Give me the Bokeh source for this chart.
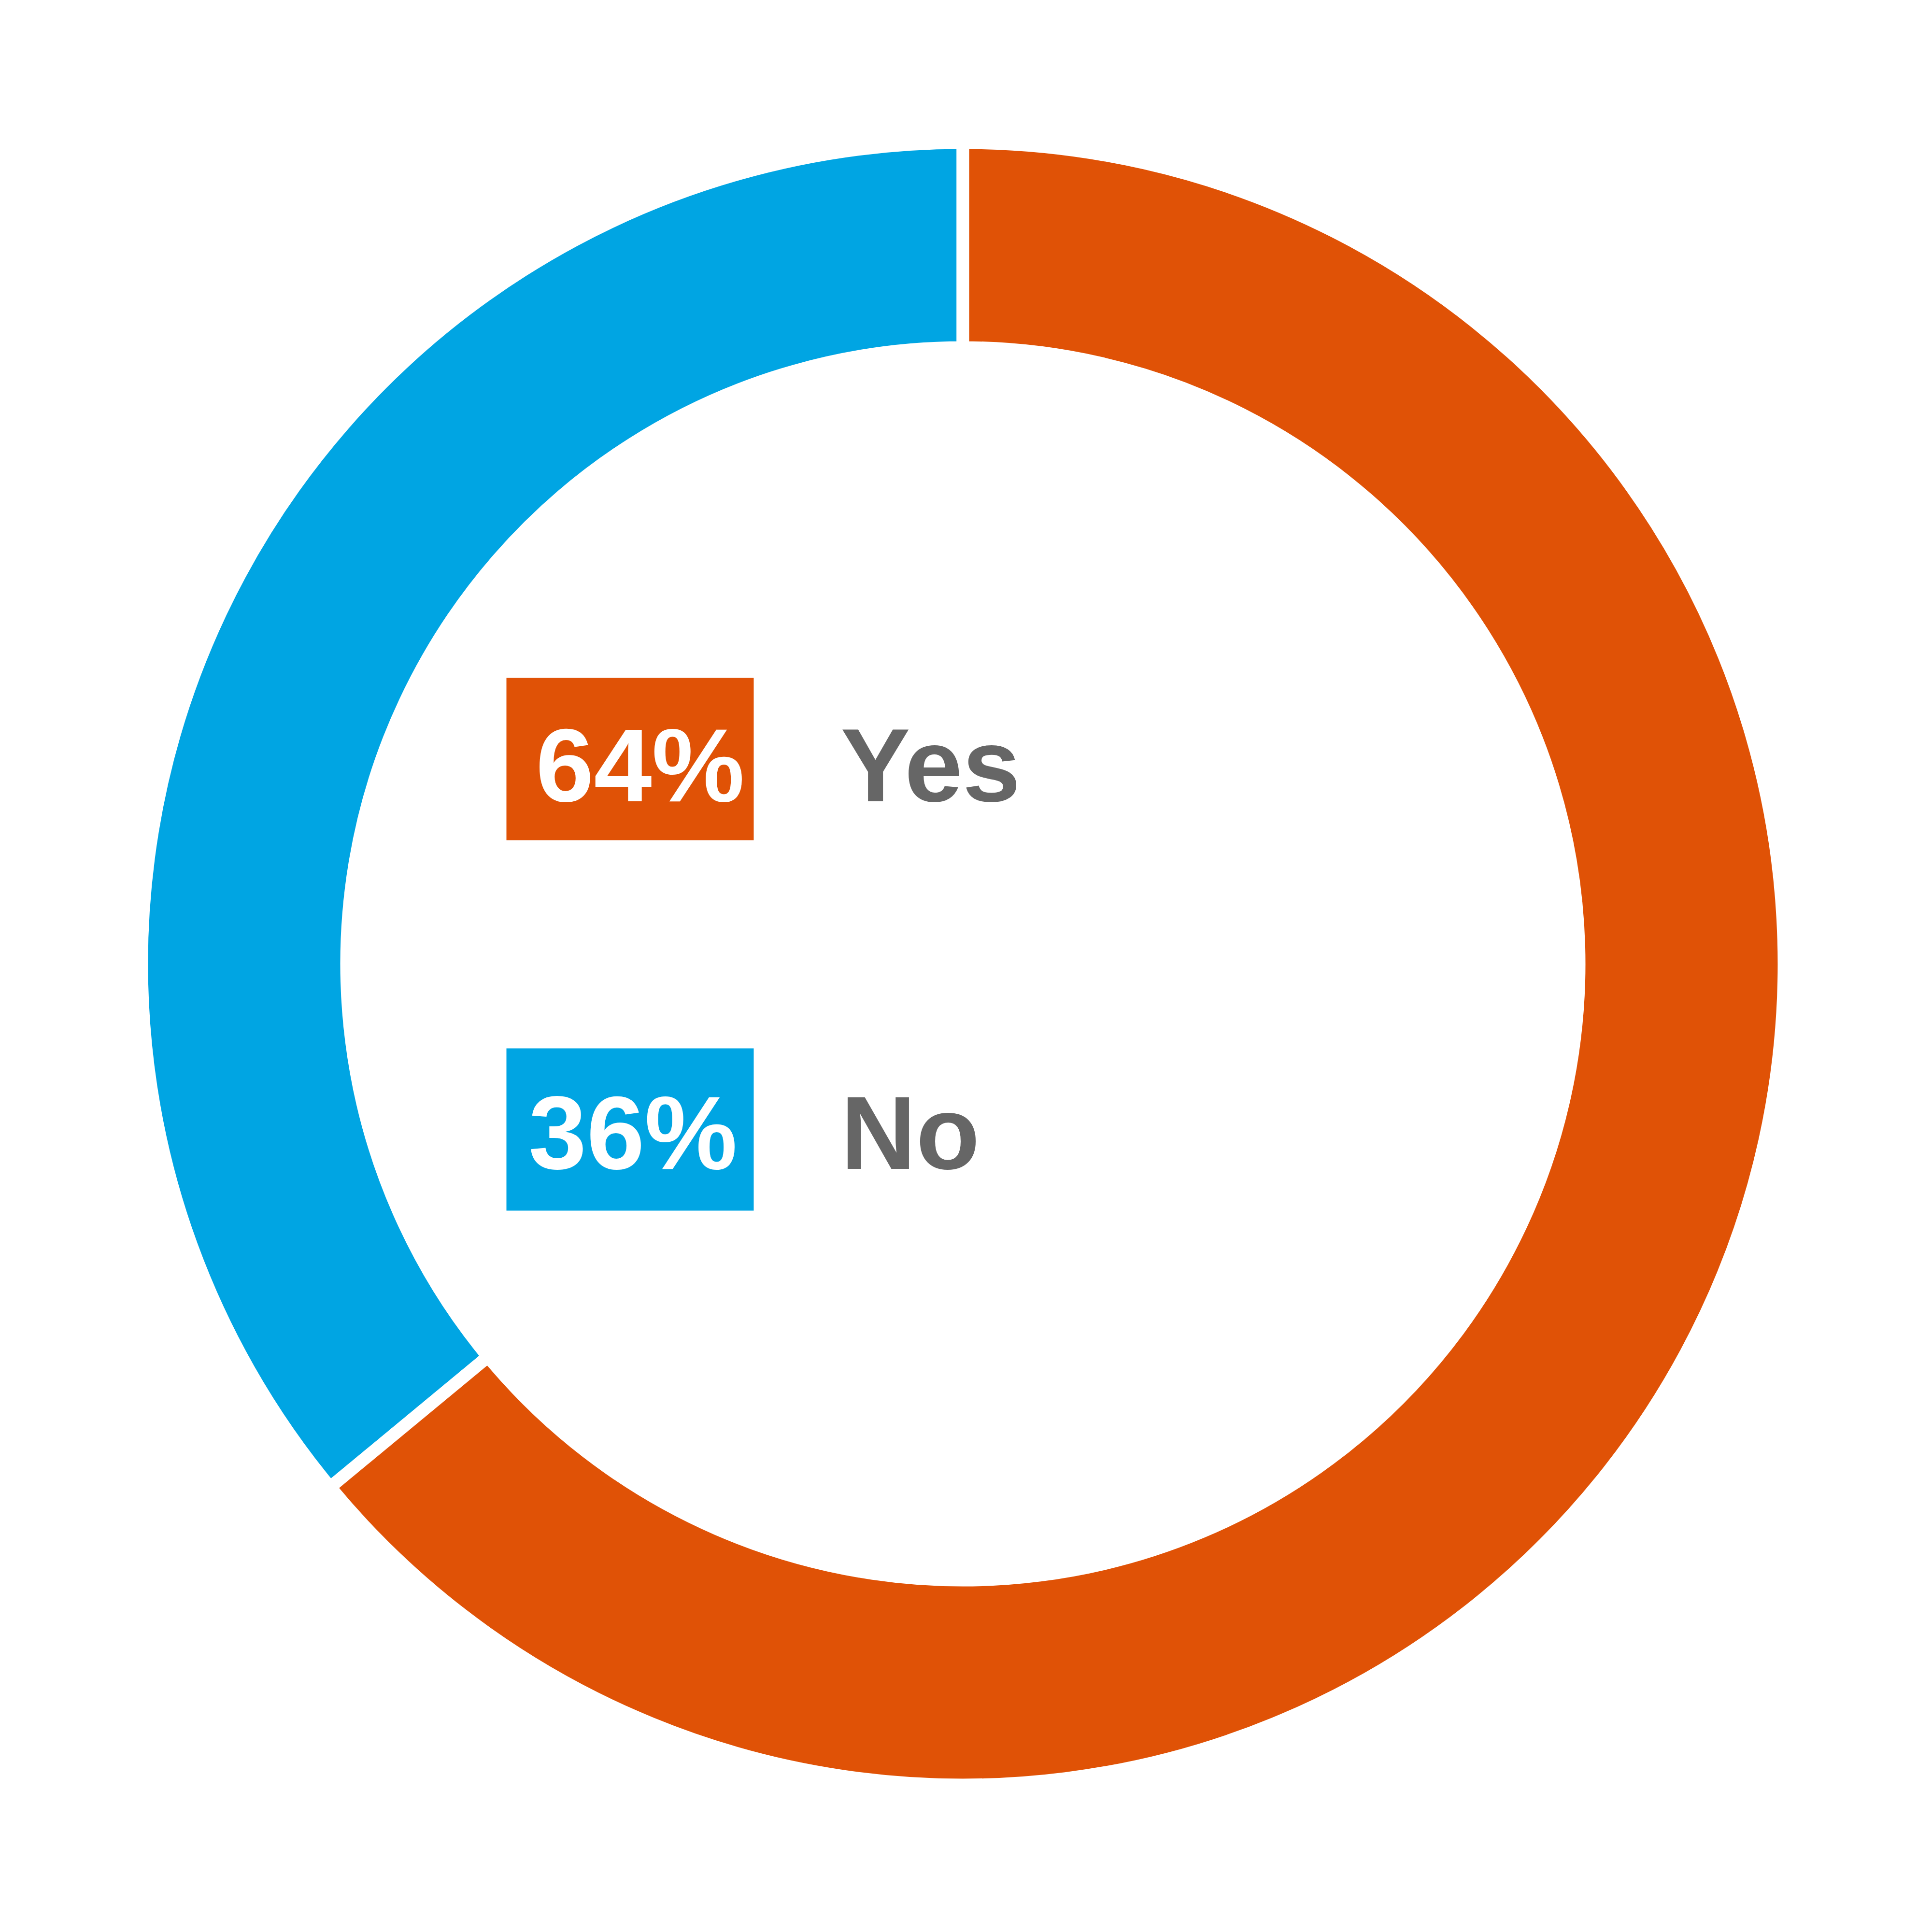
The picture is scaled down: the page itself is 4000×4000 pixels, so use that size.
from math import pi
from bokeh.plotting import figure
from bokeh.models import Range1d, ColumnDataSource
from bokeh.core.properties import value
from bokeh.embed import file_html
from bokeh.resources import INLINE

# ---- data ----
categories = ["Yes", "No"]
shares = [64, 36]
pct_labels = ["64%", "36%"]
colors = ["#E05206", "#00A5E3"]

# ---- layout (page pixel coords; data y = 4000 - page y) ----
W = 3984
H = 3984
def Y(py):
    return 4000 - py

cx, cy = 2001, Y(2003)
gap = 26
r_out = 1700
r_in = 1276

p = figure(width=W, height=H, output_backend="svg", toolbar_location=None,
           x_range=Range1d(8, 8 + W), y_range=Range1d(8, 8 + H),
           min_border=0, outline_line_color=None)
p.axis.visible = False
p.grid.visible = False
p.background_fill_color = "white"
p.border_fill_color = "white"

# angles: "No" goes counter-clockwise from 12 o'clock, "Yes" fills the rest
total = float(sum(shares))
no_span = shares[1] / total * 2 * pi
top = pi / 2
starts = [top + no_span, top]
ends = [top + 2 * pi, top + no_span]

src = ColumnDataSource(dict(start=[starts[1], starts[0]], end=[ends[1], ends[0]],
                            color=[colors[1], colors[0]]))
p.annular_wedge(x=cx, y=cy, inner_radius=r_in, outer_radius=r_out,
                start_angle="start", end_angle="end", source=src,
                fill_color="color", line_color="white", line_width=gap,
                direction="anticlock")

# legend boxes
box_left, box_right = 1056, 1568
box_tops = [1411, 2178]
box_h = 336
fs = 216
shift = 0.35 * fs
baselines = [1667 - shift, 2428 - shift]
pct_x = [1333, 1318]
p.quad(left=[box_left] * 2, right=[box_right] * 2,
       top=[Y(t) for t in box_tops], bottom=[Y(t + box_h) for t in box_tops],
       fill_color=colors, line_color=None)

p.text(x=pct_x, y=[Y(b) for b in baselines], text=pct_labels,
       text_font=value("Liberation Sans"), text_font_size=value(f"{fs}px"),
       text_font_style="bold",
       text_color="white", text_align="center", text_baseline="alphabetic")

p.text(x=[1748] * 2, y=[Y(b) for b in baselines], text=categories,
       text_font=value("Liberation Sans"), text_font_size=value(f"{fs}px"),
       text_font_style="bold",
       text_color="#666666", text_align="left", text_baseline="alphabetic")

open("out.html", "w").write(file_html(p, INLINE))
